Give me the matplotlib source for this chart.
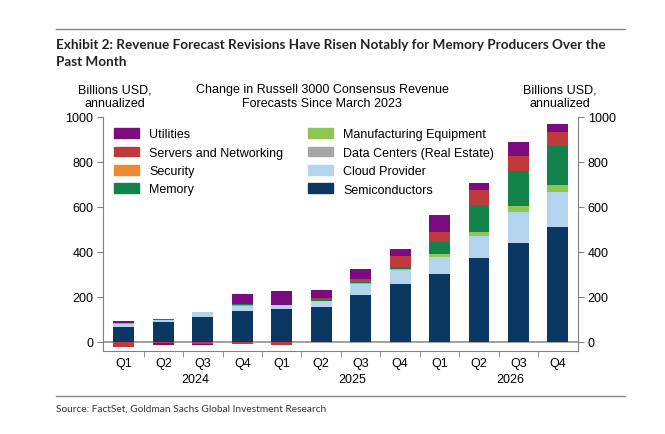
import matplotlib
matplotlib.use("Agg")
import matplotlib.pyplot as plt
import numpy as np
from matplotlib.lines import Line2D
from matplotlib.patches import Patch

# Werte (Mrd. USD, annualisiert)
quarters = ["Q1", "Q2", "Q3", "Q4"] * 3
years = ["2024", "2025", "2026"]

semis = [68, 87, 110, 139, 146, 157, 209, 258, 302, 373, 438, 509]
cloud = [14, 11, 22, 19, 17, 25, 49, 62, 74, 97, 141, 159]
datacenters = [4, 0, 3, 5, 0, 0, 0, 0, 0, 0, 0, 0]
mfg = [0, 0, 0, 0, 0, 2, 3, 5, 15, 20, 24, 30]
memory = [0, 4, 0, 5, 0, 3, 6, 10, 55, 119, 155, 175]
security = [0, 0, 0, 0, 0, 0, 0, 0, 0, 0, 0, 0]
servers = [-20, -6, -7, -8, -13, 7, 12, 49, 44, 68, 67, 62]
utilities = [8, -8, -7, 45, 63, 39, 44, 29, 76, 30, 62, 32]

# Reihenfolge von unten nach oben
series = [
    ("Semiconductors", semis, "#0b3763"),
    ("Cloud Provider", cloud, "#b4d4ee"),
    ("Data Centers (Real Estate)", datacenters, "#a6a6a6"),
    ("Manufacturing Equipment", mfg, "#8dc751"),
    ("Memory", memory, "#12834a"),
    ("Security", security, "#f08a30"),
    ("Servers and Networking", servers, "#c0393b"),
    ("Utilities", utilities, "#7b0c7f"),
]

W, H = 665, 435
fig = plt.figure(figsize=(W / 100, H / 100), dpi=100)
plt.rcParams['font.family'] = ['Liberation Sans', 'DejaVu Sans']

def fx(px):
    return px / W

def fy(py):
    return 1 - py / H

ax = fig.add_axes([fx(103), fy(352), fx(578) - fx(103), fy(118) - fy(352)])

x = np.arange(len(quarters))
pos_base = np.zeros(len(x))
neg_base = np.zeros(len(x))
for name, vals, col in series:
    v = np.array(vals, dtype=float)
    pv = np.where(v > 0, v, 0)
    nv = np.where(v < 0, v, 0)
    ax.bar(x, pv, 0.53, bottom=pos_base, color=col, linewidth=0)
    ax.bar(x, nv, 0.53, bottom=neg_base, color=col, linewidth=0)
    pos_base += pv
    neg_base += nv

ax.axhline(0, color="#9a9a9a", lw=1.3, zorder=0)

ax.set_xlim(-0.53, 11.51)
ax.set_ylim(-40, 1000)
ax.set_yticks(range(0, 1001, 200))
ax.tick_params(axis="y", labelsize=9, length=4, color="#808080", direction="out",
               left=True, right=True, labelleft=True, labelright=True, pad=3)
ax.set_xticks(x)
ax.set_xticklabels(quarters)
ax.set_xticks(np.arange(0.5, 11, 1), minor=True)
ax.tick_params(axis="x", which="major", length=0, labelsize=9, pad=4.5)
ax.tick_params(axis="x", which="minor", length=4, color="#808080", direction="out")
for s in ["left", "right", "bottom"]:
    ax.spines[s].set_color("#808080")
ax.spines["top"].set_visible(False)

for i, yr in enumerate(years):
    ax.text(1.8 + 4 * i, -0.095, yr, transform=ax.get_xaxis_transform(),
            ha="center", va="top", fontsize=9)

# Legende in zwei Spalten
order = ["Utilities", "Servers and Networking", "Security", "Memory",
         "Manufacturing Equipment", "Data Centers (Real Estate)", "Cloud Provider", "Semiconductors"]
colors = {name: col for name, vals, col in series}
handles = [Patch(color=colors[n], label=n) for n in order]
ax.legend(handles=handles, ncol=2, loc="upper left", bbox_to_anchor=(0.0, 1.0),
          frameon=False, fontsize=9, handlelength=2.0, handleheight=0.8,
          columnspacing=2.0, labelspacing=0.5, handletextpad=0.8)

# Texte
fig.text(fx(115), fy(97), "Billions USD,\nannualized", ha="center", va="center", fontsize=9)
fig.text(fx(560), fy(97), "Billions USD,\nannualized", ha="center", va="center", fontsize=9)
fig.text(fx(322), fy(97), "Change in Russell 3000 Consensus Revenue\nForecasts Since March 2023",
         ha="center", va="center", fontsize=9)

fig.text(fx(56), fy(45), "Exhibit 2: Revenue Forecast Revisions Have Risen Notably for Memory Producers Over the",
         ha="left", va="center", fontsize=9.7, fontweight="bold", family=["Lato", "DejaVu Sans"],
         color="#222222")
fig.text(fx(56), fy(62), "Past Month", ha="left", va="center", fontsize=9.7, fontweight="bold",
         family=["Lato", "DejaVu Sans"], color="#222222")
fig.text(fx(56), fy(409), "Source: FactSet, Goldman Sachs Global Investment Research",
         ha="left", va="center", fontsize=7.3, family=["Lato", "DejaVu Sans"], color="#333333")

fig.add_artist(Line2D([fx(56), fx(625)], [fy(30), fy(30)], color="#888888", lw=1))
fig.add_artist(Line2D([fx(56), fx(625)], [fy(397), fy(397)], color="#888888", lw=1))

fig.savefig("out.png", dpi=100)
